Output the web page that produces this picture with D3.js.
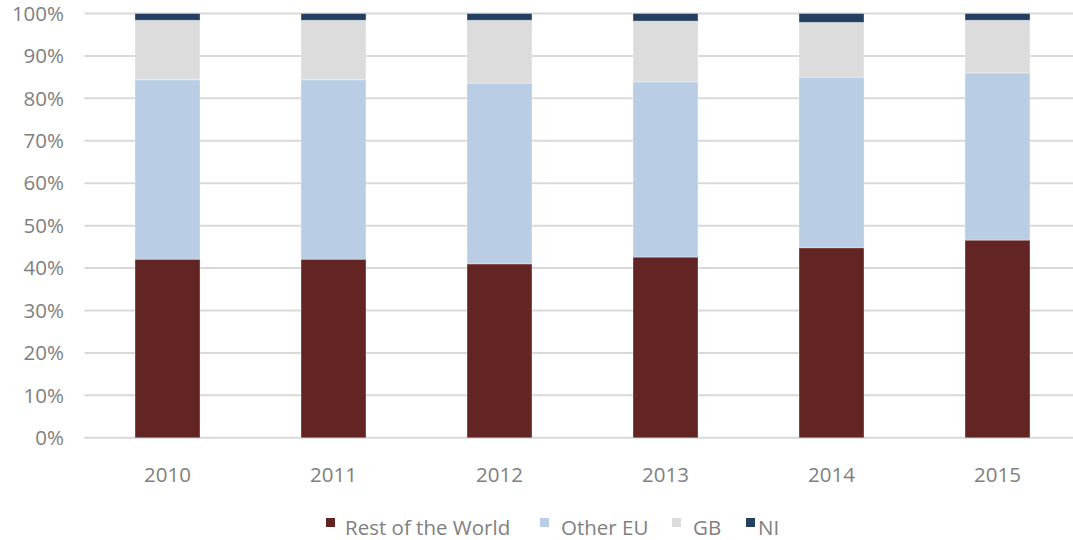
<!DOCTYPE html>
<html><head><meta charset="utf-8">
<script src="https://cdn.jsdelivr.net/npm/d3@7"></script>
<style>body{margin:0;background:#fff;overflow:hidden}svg{display:block}</style>
</head><body>
<svg id="c" width="1073" height="540"></svg>
<script>
const years = ["2010","2011","2012","2013","2014","2015"];
const seriesNames = ["Rest of the World","Other EU","GB","NI"];
const restOfWorld = [42.1, 42.1, 41.0, 42.6, 44.8, 46.6];
const otherEU     = [42.3, 42.3, 42.6, 41.3, 40.2, 39.4];
const gb          = [14.0, 14.0, 14.8, 14.3, 12.9, 12.4];
const ni          = [1.6, 1.6, 1.6, 1.8, 2.1, 1.6];
const yTicks = [0,10,20,30,40,50,60,70,80,90,100];
const colors = ["#632523","#b9cde5","#dcdcdc","#243f62"];

const svg = d3.select("#c");
const m = {left:84.5, top:13.5, bottom:437.8};
const x = d3.scaleBand().domain(years).range([m.left, m.left + 6*166]).paddingInner(101/166).paddingOuter(50.5/166);
const y = d3.scaleLinear().domain([0,100]).range([m.bottom, m.top]);

const rows = years.map((yr,i)=>({year:yr,"Rest of the World":restOfWorld[i],"Other EU":otherEU[i],"GB":gb[i],"NI":ni[i]}));
const stack = d3.stack().keys(seriesNames)(rows);
const font = "'Open Sans', sans-serif";
const txt = "#808080";

// gridlines
svg.append("g").selectAll("line").data(yTicks).join("line")
  .attr("x1", m.left).attr("x2", 1073)
  .attr("y1", d=>y(d)).attr("y2", d=>y(d))
  .attr("stroke", "#d9d9d9").attr("stroke-width", 2);

// y labels
svg.append("g").selectAll("text").data(yTicks).join("text")
  .attr("x", 64).attr("y", d=>y(d)).attr("dy","0.35em")
  .attr("text-anchor","end")
  .attr("font-family",font).attr("font-size",20.5)
  .attr("fill",txt)
  .text(d=>d+"%");

// bars
svg.append("g").selectAll("g").data(stack).join("g")
  .attr("fill",(d,i)=>colors[i])
  .selectAll("rect").data(d=>d).join("rect")
  .attr("x", d=>x(d.data.year))
  .attr("width", x.bandwidth())
  .attr("y", d=>y(d[1]))
  .attr("height", d=>y(d[0])-y(d[1]))
  .attr("stroke","#ffffff").attr("stroke-opacity",0.35).attr("stroke-width",1);

// x labels
svg.append("g").selectAll("text").data(years).join("text")
  .attr("x", d=>x(d)+x.bandwidth()/2).attr("y", 482)
  .attr("text-anchor","middle")
  .attr("font-family",font).attr("font-size",20.5)
  .attr("fill",txt)
  .text(d=>d);

// legend
const legX = [326, 540, 672, 746];
const lg = svg.append("g").selectAll("g").data(seriesNames).join("g")
  .attr("transform",(d,i)=>`translate(${legX[i]},0)`);
lg.append("rect").attr("x",0).attr("y",518).attr("width",9).attr("height",9)
  .attr("fill",(d,i)=>colors[i]);
lg.append("text").attr("x",(d,i)=>[19,21,21,12][i]).attr("y",535)
  .attr("font-family",font).attr("font-size",20.5)
  .attr("fill",txt).text(d=>d);
</script>
</body></html>
